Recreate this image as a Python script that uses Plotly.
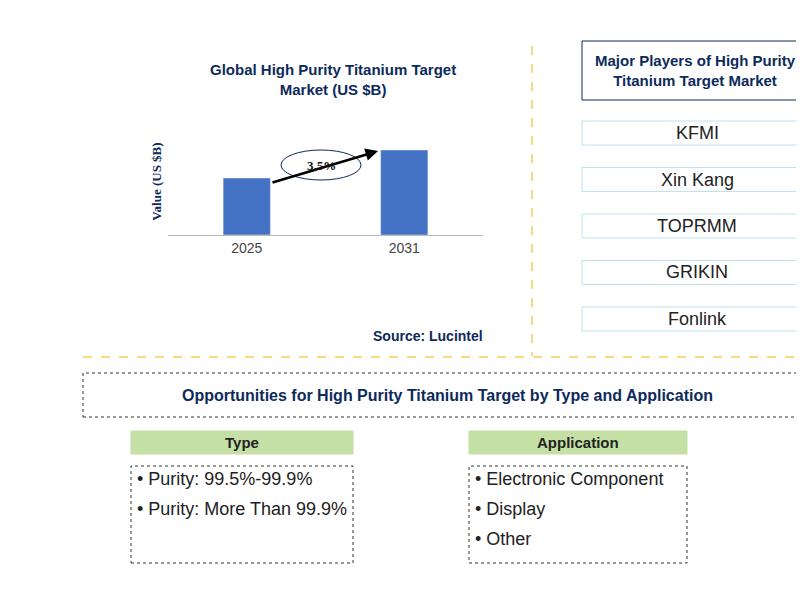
import plotly.graph_objects as go

years = ["2025", "2031"]
values = [1.97, 2.94]
cagr = "3.5%"
players = ["KFMI", "Xin Kang", "TOPRMM", "GRIKIN", "Fonlink"]
types = ["Purity: 99.5%-99.9%", "Purity: More Than 99.9%"]
apps = ["Electronic Component", "Display", "Other"]

W, H = 804, 596
def px(x): return x / W
def py(y): return 1 - y / H
NAVY = "#0d2a5c"

fig = go.Figure(go.Bar(x=years, y=values, marker_color="#4472c4", width=0.3))
fig.update_layout(
    width=W, height=H, margin=dict(l=0, r=0, t=0, b=0),
    paper_bgcolor="white", plot_bgcolor="white", showlegend=False,
    xaxis=dict(domain=[px(160), px(475)], showline=True, linecolor="#bbbbbb",
               tickfont=dict(family="Arial", size=14, color="#444444"), ticks=""),
    yaxis=dict(domain=[py(227), py(120)], range=[0, 3.7], showticklabels=False,
               showgrid=False, zeroline=False,
               title=dict(text="<b>Value (US $B)</b>", font=dict(family="Times New Roman, Liberation Serif", size=13, color=NAVY), standoff=2)),
)
shapes = []
ann = []
def A(x, y, t, size=14, color=NAVY, bold=True, family="Arial", xa="center"):
    ann.append(dict(x=px(x), y=py(y), xref="paper", yref="paper", text=("<b>%s</b>" % t) if bold else t,
                    showarrow=False, font=dict(family=family, size=size, color=color), xanchor=xa, yanchor="middle"))
def R(x0, y0, x1, y1, color, dash="solid", fill="rgba(0,0,0,0)", w=1):
    shapes.append(dict(type="rect", xref="paper", yref="paper", x0=px(x0), x1=px(x1), y0=py(y1), y1=py(y0),
                       line=dict(color=color, dash=dash, width=w), fillcolor=fill))

A(325, 71, "Global High Purity Titanium Target<br>Market (US $B)", 15)
ann.append(dict(x=px(370), y=py(143), ax=-107, ay=32, xref="paper", yref="paper", axref="pixel", ayref="pixel",
                text="", showarrow=True, arrowhead=2, arrowsize=1, arrowwidth=2.5, arrowcolor="black", standoff=0))
shapes.append(dict(type="circle", xref="paper", yref="paper", x0=px(273), x1=px(353), y0=py(172), y1=py(142),
                   line=dict(color=NAVY, width=1), fillcolor="white", layer="above"))
A(313, 157, cagr, 13, "#111111", family="Times New Roman, Liberation Serif")
A(420, 328, "Source: Lucintel", 14)
shapes.append(dict(type="line", xref="paper", yref="paper", x0=px(524), x1=px(524), y0=py(38), y1=py(348),
                   line=dict(color="#f0b400", dash="dash", width=1)))
shapes.append(dict(type="line", xref="paper", yref="paper", x0=px(75), x1=px(804), y0=py(349), y1=py(349),
                   line=dict(color="#f0b400", dash="dash", width=1)))
R(574, 33, 800, 92, NAVY)
A(687, 62, "Major Players of High Purity<br>Titanium Target Market", 15)
for i, p in enumerate(players):
    cy = 125 + i * 46.5
    R(574, cy - 12, 804, cy + 12, "#bfe0ef")
    A(689, cy, p, 18, "#222222", bold=False)
R(75, 365, 803, 409, "#333333", dash="dot")
A(439, 387, "Opportunities for High Purity Titanium Target by Type and Application", 16)
for x0, x1, title, items in [(123, 345, "Type", types), (461, 679, "Application", apps)]:
    R(x0, 423, x1, 446, "#c5e0a5", fill="#c5e0a5")
    A((x0 + x1) / 2, 434.5, title, 15, "#222222")
    R(x0, 458, x1, 555, "#333333", dash="dot")
    for j, t in enumerate(items):
        A(x0 + 4, 471 + j * 30, "• " + t, 18, "#222222", bold=False, xa="left")
fig.update_layout(shapes=shapes, annotations=ann)
fig.write_html("out.html")
